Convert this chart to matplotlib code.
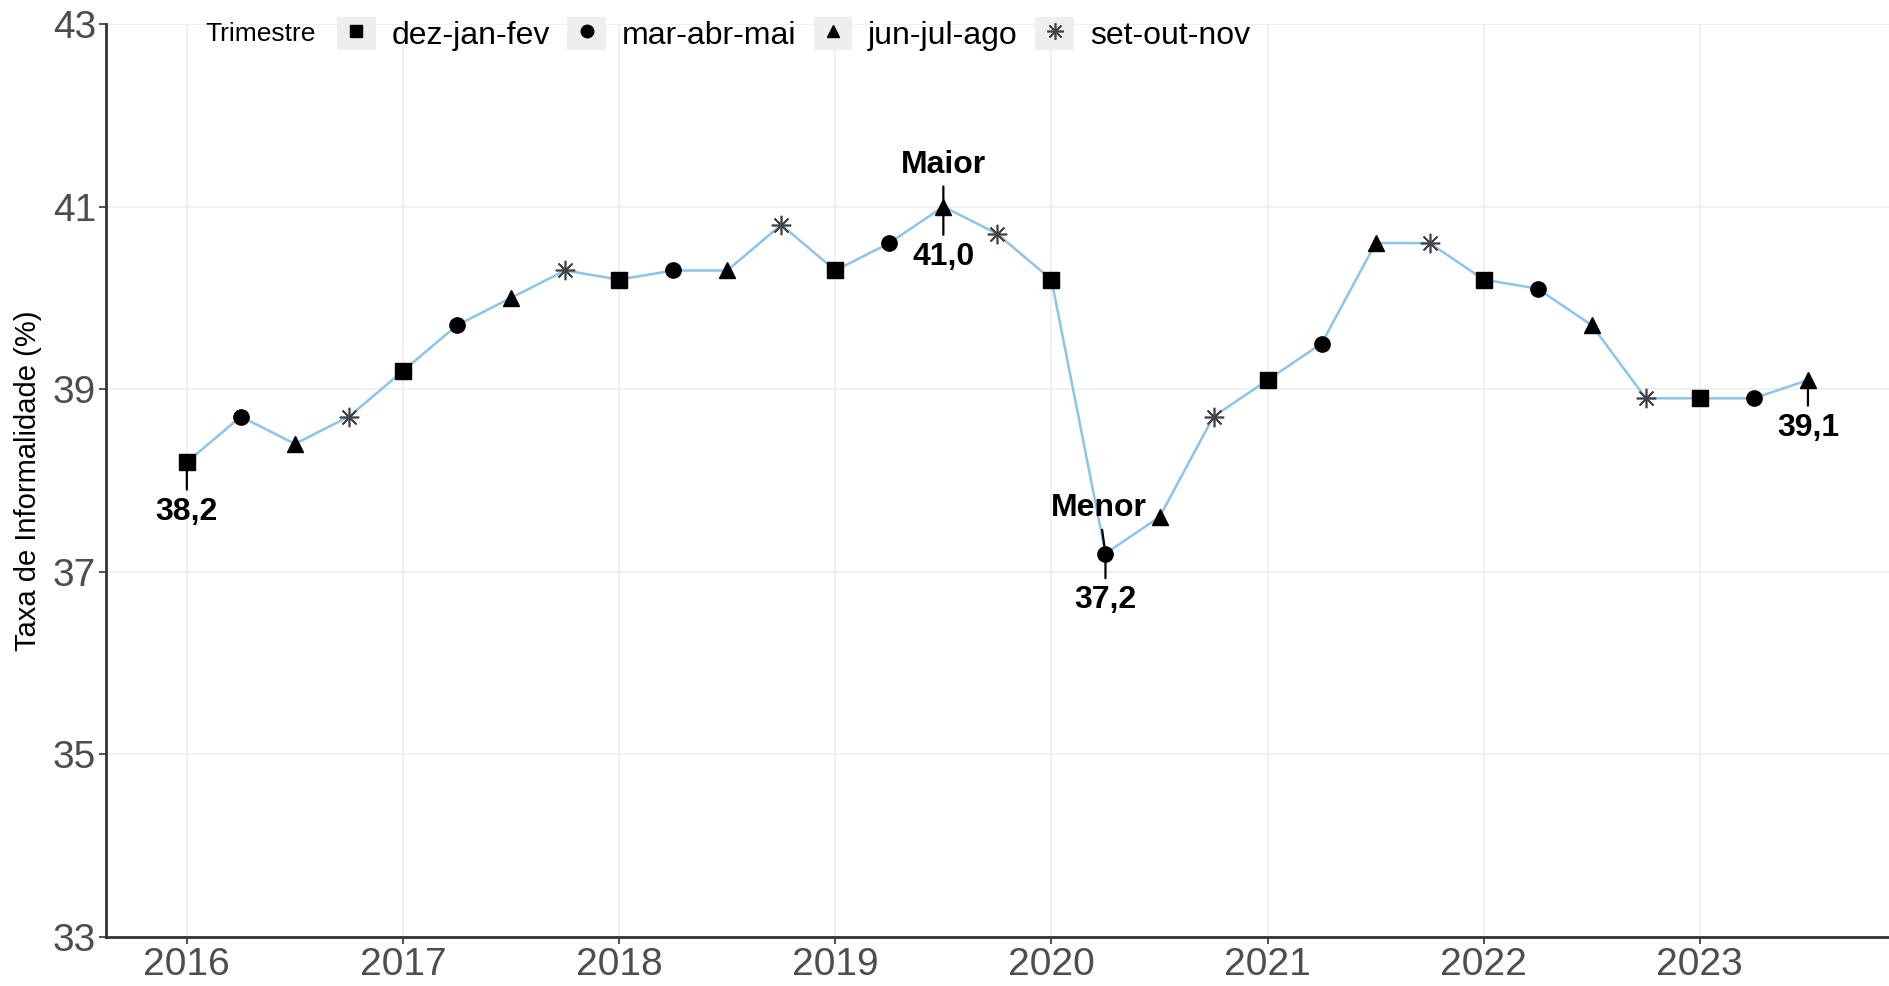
import matplotlib
matplotlib.use("Agg")
import matplotlib.pyplot as plt
from matplotlib.patches import Rectangle
from matplotlib.lines import Line2D
from matplotlib.legend_handler import HandlerTuple

plt.rcParams['font.family'] = ['Liberation Sans', 'DejaVu Sans']

# quarterly series, starting dez-jan-fev 2016
years = [2016 + 0.25 * i for i in range(31)]
taxa = [38.2, 38.7, 38.4, 38.7,
        39.2, 39.7, 40.0, 40.3,
        40.2, 40.3, 40.3, 40.8,
        40.3, 40.6, 41.0, 40.7,
        40.2, 37.2, 37.6, 38.7,
        39.1, 39.5, 40.6, 40.6,
        40.2, 40.1, 39.7, 38.9,
        38.9, 38.9, 39.1]
trimestres = ["dez-jan-fev", "mar-abr-mai", "jun-jul-ago", "set-out-nov"]
markers = ["s", "o", "^", (8, 2, 0)]
msizes = [11, 11, 12, 14]

fig = plt.figure(figsize=(18.89, 9.86), dpi=100)
ax = fig.add_axes([0.056, 0.0497, 0.944, 0.926])

ax.plot(years, taxa, color="#8CC4EC", lw=1.8, zorder=2)
for q in range(4):
    xs = years[q::4]
    ys = taxa[q::4]
    if q == 3:
        ax.plot(xs, ys, ls="none", marker=markers[q], ms=msizes[q],
                mec="#444444", mew=1.2, zorder=3)
    else:
        ax.plot(xs, ys, ls="none", marker=markers[q], ms=msizes[q],
                color="black", mec="black", zorder=3)

ax.set_xlim(2015.625, 2023.875)
ax.set_ylim(33, 43)
ax.set_xticks(range(2016, 2024))
ax.set_yticks(range(33, 44, 2))
ax.grid(True, color="#EDEDED", lw=1.2)
ax.set_axisbelow(True)
for s in ["top", "right"]:
    ax.spines[s].set_visible(False)
for s in ["left", "bottom"]:
    ax.spines[s].set_color("#333333")
    ax.spines[s].set_linewidth(2)
ax.tick_params(axis="both", labelsize=28, labelcolor="#4D4D4D", color="#333333",
               length=5, width=1.2, pad=2)
ax.set_ylabel("Taxa de Informalidade (%)", fontsize=21, labelpad=8)

txt = dict(fontsize=23, fontweight="bold", ha="center", va="center")
arr = dict(arrowstyle="-", lw=1.6, color="black", shrinkA=3, shrinkB=0)

# value labels below the points
ax.annotate("38,2", xy=(years[0], taxa[0]), xytext=(years[0], 37.66), arrowprops=arr, **txt)
ax.annotate("41,0", xy=(years[14], taxa[14]), xytext=(years[14], 40.45), arrowprops=arr, **txt)
ax.annotate("37,2", xy=(years[17], taxa[17]), xytext=(years[17], 36.69), arrowprops=arr, **txt)
ax.annotate("39,1", xy=(years[30], taxa[30]), xytext=(years[30], 38.58), arrowprops=arr, **txt)
# extremes
ax.annotate("Maior", xy=(years[14], taxa[14]), xytext=(years[14], 41.46), arrowprops=arr, **txt)
ax.annotate("Menor", xy=(years[17], taxa[17]), xytext=(2020.22, 37.70), arrowprops=arr, **txt)

# legend with grey key backgrounds
handles = []
for q in range(4):
    bg = Rectangle((0, 0), 1, 1, facecolor="#EEEEEE", edgecolor="none")
    if q == 3:
        mk = Line2D([], [], ls="none", marker=markers[q], ms=12, mec="#444444", mew=1.2)
    else:
        mk = Line2D([], [], ls="none", marker=markers[q], ms=9, color="black")
    handles.append((bg, mk))
fig.text(0.1085, 0.9655, "Trimestre", fontsize=19, va="center", ha="left")
fig.legend(handles, trimestres, loc="center left", bbox_to_anchor=(0.1785, 0.9655),
           ncol=4, frameon=False, fontsize=23, handlelength=1.2, handleheight=1.25,
           handletextpad=0.5, columnspacing=0.55, borderpad=0, borderaxespad=0,
           handler_map={tuple: HandlerTuple(ndivide=1, pad=0)})

fig.savefig("out.png", dpi=100)
